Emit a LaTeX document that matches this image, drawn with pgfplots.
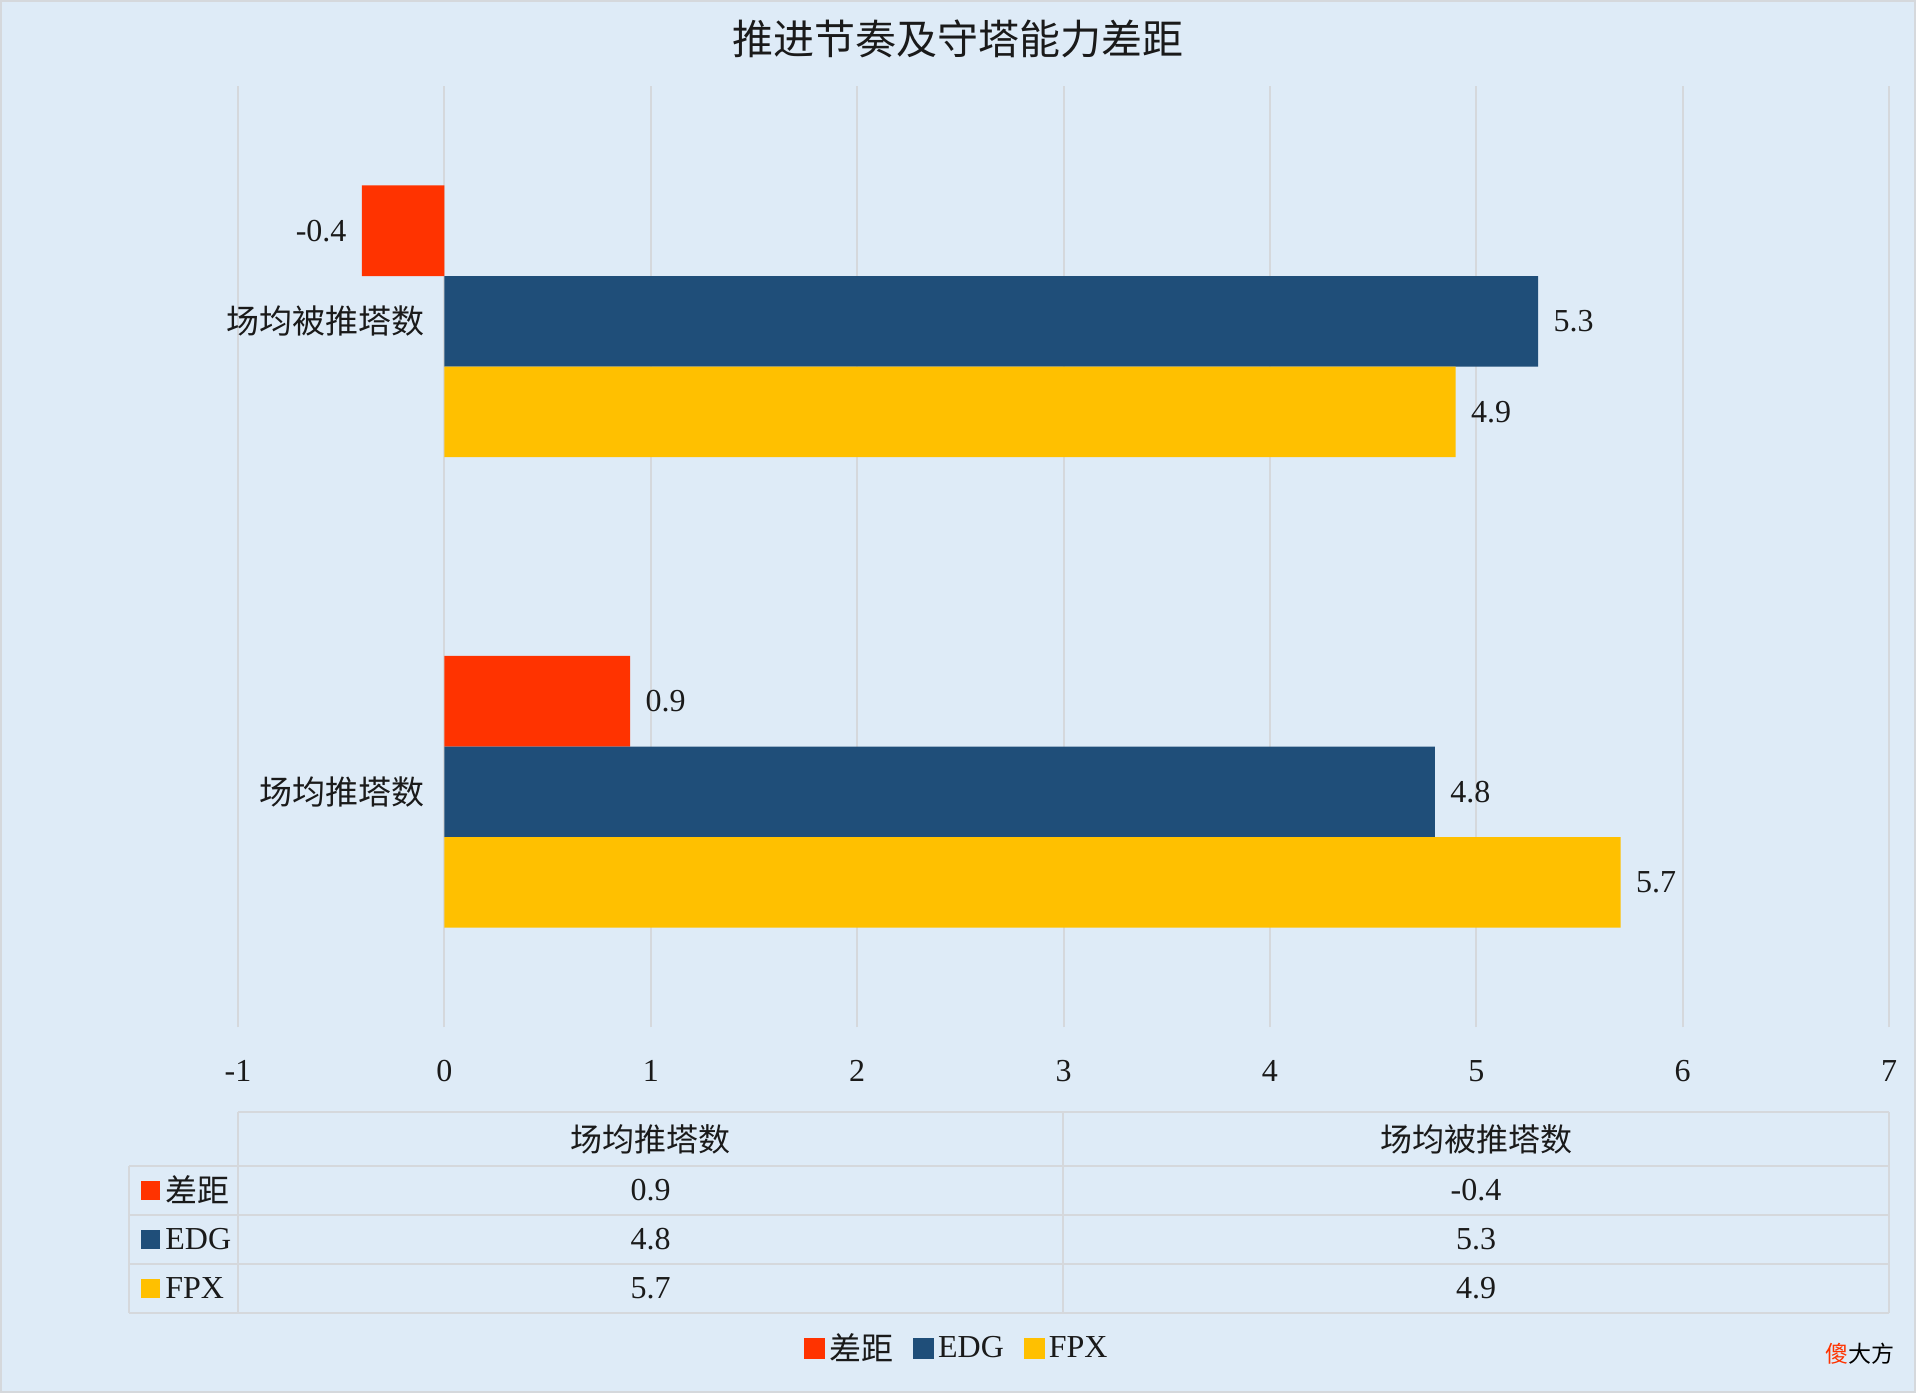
\documentclass[border=0pt]{standalone}
\usepackage{fontspec}
\setmainfont{Liberation Serif}
\newfontfamily\cjk{Noto Sans CJK SC}
\usepackage{pgfplots}
\pgfplotsset{compat=1.18}
\definecolor{bg}{HTML}{DEEBF7}
\definecolor{cred}{HTML}{FF3300}
\definecolor{cblue}{HTML}{1F4E79}
\definecolor{cyel}{HTML}{FFC000}
\definecolor{gridc}{HTML}{D5D8DC}
\definecolor{txt}{HTML}{1A1A1A}
\begin{document}
\begin{tikzpicture}
\begin{scope}[x=0.5pt,y=-0.5pt]
\fill[bg] (0,0) rectangle (1916,1393);
\draw[gridc, line width=1pt] (1,1) rectangle (1915,1392);
\node[font=\cjk\fontsize{20.5}{23}\selectfont, text=txt] at (958,39) {推进节奏及守塔能力差距};
\end{scope}
\begin{axis}[
  at={(119pt,-513.5pt)}, anchor=south west,
  width=825.5pt, height=470.5pt, scale only axis,
  xmin=-1, xmax=7, ymin=-0.5, ymax=1.5,
  xbar, bar width=0.1924,
  xtick={-1,0,...,7}, ytick={0,1},
  yticklabels={场均推塔数,场均被推塔数},
  xmajorgrids, grid style={gridc, line width=1pt},
  axis line style={draw=none}, major tick length=0pt,
  /pgf/number format/assume math mode=true,
  xticklabel style={font=\fontsize{16}{18}\selectfont, text=txt, yshift=-13pt},
  yticklabel style={font=\cjk\fontsize{16.5}{18}\selectfont, text=txt, xshift=97pt},
  nodes near coords={\pgfmathprintnumber[fixed,fixed zerofill,precision=1]{\pgfplotspointmeta}},
  every node near coord/.append style={font=\fontsize{16}{18}\selectfont, text=txt, inner sep=7.5pt},
  legend columns=3,
  legend style={at={(0.436,-0.342)}, anchor=center, draw=none, fill=none,
    font=\fontsize{16}{18}\selectfont, text=txt,
    /tikz/every even column/.append style={column sep=8pt}},
  legend image code/.code={\fill[#1] (0pt,-5.25pt) rectangle (10.5pt,5.25pt);},
]
\addplot[fill=cred, draw=none, bar shift=0.1924] coordinates {(0.9,0) (-0.4,1)};
\addplot[fill=cblue, draw=none, bar shift=0] coordinates {(4.8,0) (5.3,1)};
\addplot[fill=cyel, draw=none, bar shift=-0.1924] coordinates {(5.7,0) (4.9,1)};
\legend{{\cjk 差距},EDG,FPX}
\end{axis}
\begin{scope}[x=0.5pt,y=-0.5pt]
\begin{scope}[gridc, line width=1.2pt]
\draw (238,1112) -- (1889,1112);
\draw (129,1165.7) -- (1889,1165.7);
\draw (129,1215) -- (1889,1215);
\draw (129,1264) -- (1889,1264);
\draw (129,1313) -- (1889,1313);
\draw (129,1165.7) -- (129,1313);
\draw (238,1112) -- (238,1313);
\draw (1063,1112) -- (1063,1313);
\draw (1889,1112) -- (1889,1313);
\end{scope}
\begin{scope}[every node/.style={font=\fontsize{16}{18}\selectfont, text=txt}]
\node[font=\cjk\fontsize{16}{18}\selectfont] at (650.5,1139) {场均推塔数};
\node[font=\cjk\fontsize{16}{18}\selectfont] at (1476,1139) {场均被推塔数};
\fill[cred] (141,1181) rectangle (160,1200);
\fill[cblue] (141,1230) rectangle (160,1249);
\fill[cyel] (141,1279) rectangle (160,1298);
\node[anchor=west, inner sep=0pt, font=\cjk\fontsize{16}{18}\selectfont] at (165,1190) {差距};
\node[anchor=west, inner sep=0pt] at (165,1239.5) {EDG};
\node[anchor=west, inner sep=0pt] at (165,1288.5) {FPX};
\node at (650.5,1190) {0.9};
\node at (650.5,1239.5) {4.8};
\node at (650.5,1288.5) {5.7};
\node at (1476,1190) {-0.4};
\node at (1476,1239.5) {5.3};
\node at (1476,1288.5) {4.9};
\end{scope}
\node[font=\cjk\fontsize{11.5}{13}\selectfont, text=black] at (1860,1354) {\textcolor{cred}{傻}大方};
\end{scope}
\end{tikzpicture}
\end{document}
